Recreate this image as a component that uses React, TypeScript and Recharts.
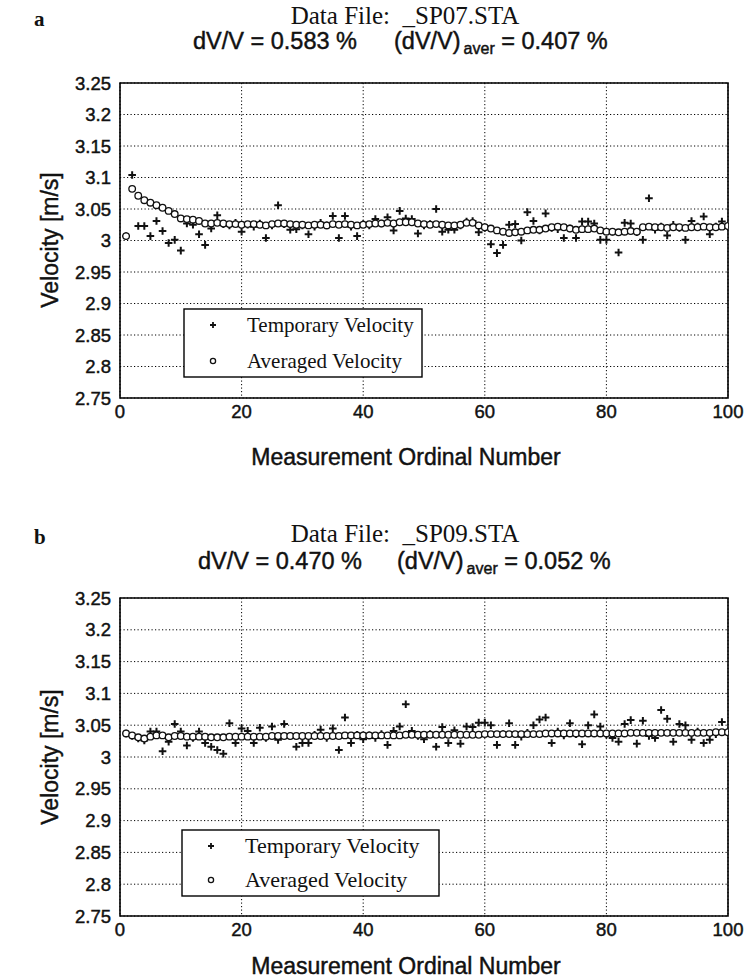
import React from "react";
import { ScatterChart, Scatter, XAxis, YAxis, CartesianGrid, ReferenceArea } from "recharts";

// ---------- data ----------
const ordinals: number[] = Array.from({ length: 100 }, (_, i) => i + 1);

const tempA: number[] = [
  3.007, 3.104, 3.023, 3.023, 3.007, 3.031, 3.015, 2.996, 3.001, 2.984,
  3.027, 3.025, 3.010, 2.993, 3.019, 3.040, 3.026, 3.024, 3.028, 3.014,
  3.025, 3.022, 3.027, 3.004, 3.024, 3.056, 3.026, 3.017, 3.018, 3.024,
  3.010, 3.022, 3.028, 3.024, 3.039, 3.004, 3.039, 3.022, 3.007, 3.026,
  3.024, 3.034, 3.027, 3.037, 3.016, 3.047, 3.035, 3.034, 3.011, 3.024,
  3.026, 3.050, 3.014, 3.017, 3.017, 3.024, 3.030, 3.031, 3.013, 3.020,
  2.994, 2.980, 2.993, 3.025, 3.026, 3.000, 3.045, 3.031, 3.016, 3.043,
  3.020, 3.018, 3.004, 3.019, 3.004, 3.030, 3.030, 3.027, 3.001, 3.001,
  3.014, 2.981, 3.028, 3.027, 3.013, 3.001, 3.067, 3.017, 3.022, 3.008,
  3.025, 3.020, 3.001, 3.031, 3.022, 3.038, 3.010, 3.022, 3.030, 3.024,
];

const avgA: number[] = [
  3.007, 3.082, 3.071, 3.064, 3.060, 3.056, 3.052, 3.047, 3.042, 3.035,
  3.034, 3.033, 3.031, 3.027, 3.027, 3.028, 3.027, 3.026, 3.026, 3.025,
  3.026, 3.026, 3.025, 3.024, 3.026, 3.027, 3.027, 3.026, 3.025, 3.025,
  3.024, 3.025, 3.025, 3.024, 3.026, 3.025, 3.026, 3.025, 3.024, 3.025,
  3.026, 3.027, 3.027, 3.028, 3.027, 3.029, 3.029, 3.029, 3.027, 3.026,
  3.025, 3.026, 3.025, 3.024, 3.024, 3.025, 3.028, 3.028, 3.024, 3.021,
  3.019, 3.016, 3.014, 3.012, 3.013, 3.014, 3.016, 3.017, 3.017, 3.019,
  3.021, 3.022, 3.021, 3.019, 3.017, 3.018, 3.018, 3.019, 3.016, 3.014,
  3.014, 3.013, 3.014, 3.015, 3.014, 3.021, 3.022, 3.021, 3.021, 3.020,
  3.021, 3.021, 3.020, 3.021, 3.021, 3.022, 3.021, 3.021, 3.022, 3.023,
];

const tempB: number[] = [
  3.037, 3.033, 3.029, 3.026, 3.040, 3.040, 3.009, 3.024, 3.052, 3.040,
  3.018, 3.030, 3.040, 3.022, 3.016, 3.011, 3.005, 3.053, 3.022, 3.045,
  3.041, 3.022, 3.046, 3.030, 3.048, 3.027, 3.052, 3.033, 3.016, 3.022,
  3.022, 3.035, 3.043, 3.030, 3.045, 3.011, 3.062, 3.022, 3.035, 3.028,
  3.034, 3.030, 3.036, 3.019, 3.041, 3.048, 3.083, 3.041, 3.033, 3.028,
  3.036, 3.016, 3.047, 3.022, 3.042, 3.021, 3.048, 3.047, 3.054, 3.054,
  3.050, 3.019, 3.036, 3.053, 3.019, 3.032, 3.038, 3.050, 3.059, 3.062,
  3.022, 3.040, 3.034, 3.053, 3.036, 3.020, 3.050, 3.067, 3.048, 3.035,
  3.030, 3.024, 3.052, 3.058, 3.021, 3.057, 3.033, 3.030, 3.074, 3.060,
  3.024, 3.052, 3.050, 3.027, 3.040, 3.022, 3.027, 3.036, 3.055, 3.040,
];

const avgB: number[] = [
  3.037, 3.034, 3.031, 3.029, 3.032, 3.034, 3.034, 3.031, 3.033, 3.033,
  3.032, 3.032, 3.032, 3.032, 3.031, 3.031, 3.031, 3.032, 3.032, 3.032,
  3.032, 3.032, 3.032, 3.032, 3.033, 3.033, 3.033, 3.033, 3.033, 3.033,
  3.033, 3.033, 3.033, 3.033, 3.033, 3.033, 3.034, 3.034, 3.034, 3.034,
  3.034, 3.034, 3.034, 3.034, 3.034, 3.034, 3.035, 3.035, 3.035, 3.035,
  3.035, 3.035, 3.035, 3.035, 3.035, 3.035, 3.035, 3.035, 3.035, 3.036,
  3.036, 3.036, 3.036, 3.036, 3.036, 3.036, 3.036, 3.036, 3.036, 3.037,
  3.037, 3.037, 3.037, 3.037, 3.037, 3.037, 3.037, 3.037, 3.037, 3.037,
  3.037, 3.037, 3.037, 3.038, 3.038, 3.038, 3.038, 3.038, 3.038, 3.038,
  3.038, 3.038, 3.038, 3.038, 3.038, 3.038, 3.038, 3.039, 3.039, 3.039,
];

const xTicks: number[] = [0, 20, 40, 60, 80, 100];
const yTicks: number[] = [2.75, 2.8, 2.85, 2.9, 2.95, 3, 3.05, 3.1, 3.15, 3.2, 3.25];
const yTickLabels: string[] = ["2.75", "2.8", "2.85", "2.9", "2.95", "3", "3.05", "3.1", "3.15", "3.2", "3.25"];

const legendLabels: string[] = ["Temporary Velocity", "Averaged Velocity"];
const panelLetters: string[] = ["a", "b"];
const fileNames: string[] = ["_SP07.STA", "_SP09.STA"];
const dvv: string[] = ["0.583", "0.470"];
const dvvAver: string[] = ["0.407", "0.052"];
const xLabel = "Measurement Ordinal Number";
const yLabel = "Velocity [m/s]";

const toPoints = (vals: number[]) => vals.map((v, i) => ({ n: ordinals[i], v }));

// ---------- styles ----------
const SANS = "'Liberation Sans', Arial, Helvetica, sans-serif";
const SERIF = "'Liberation Serif', 'Times New Roman', serif";
const INK = "#111";
const HEAVY = { stroke: INK, strokeWidth: 0.45 } as const;

const Plus = (p: any) => {
  const { cx, cy } = p;
  if (cx == null || cy == null) return null;
  const s = 3.8;
  return (
    <path
      d={`M${cx - s},${cy}H${cx + s}M${cx},${cy - s}V${cy + s}`}
      stroke={INK}
      strokeWidth={2}
      fill="none"
    />
  );
};

const Ring = (p: any) => {
  const { cx, cy } = p;
  if (cx == null || cy == null) return null;
  return <circle cx={cx} cy={cy} r={3.3} fill="#fff" stroke={INK} strokeWidth={1.3} />;
};

const tickFmt = (v: number) => {
  const i = yTicks.findIndex((t) => Math.abs(t - v) < 1e-6);
  return i >= 0 ? yTickLabels[i] : String(v);
};

const tickStyle = { fill: INK, fontSize: 18.5, fontFamily: SANS, ...HEAVY };

type PanelProps = {
  temp: number[];
  avg: number[];
  height: number;
  marginTop: number;
  xAxisHeight: number;
};

const Panel = ({ temp, avg, height, marginTop, xAxisHeight }: PanelProps) => (
  <ScatterChart
    width={745}
    height={height}
    margin={{ top: marginTop, right: 17, bottom: 0, left: 0 }}
  >
    <CartesianGrid
      stroke="#000"
      strokeDasharray="1.2 2.3"
      strokeWidth={1}
      horizontalValues={yTicks}
      verticalValues={xTicks}
    />
    <XAxis
      type="number"
      dataKey="n"
      domain={[0, 100]}
      ticks={xTicks}
      allowDataOverflow
      height={xAxisHeight}
      axisLine={false}
      tickLine={false}
      tickSize={0}
      tickMargin={7}
      tick={tickStyle}
    />
    <YAxis
      type="number"
      dataKey="v"
      domain={[2.75, 3.25]}
      ticks={yTicks}
      allowDataOverflow
      width={120}
      axisLine={false}
      tickLine={false}
      tickSize={0}
      tickMargin={9}
      tickFormatter={tickFmt}
      interval={0}
      tick={tickStyle}
    />
    <ReferenceArea
      x1={0}
      x2={100}
      y1={2.75}
      y2={3.25}
      fill="none"
      fillOpacity={0}
      stroke="#000"
      strokeWidth={1.6}
      ifOverflow="visible"
    />
    <Scatter data={toPoints(temp)} shape={Plus} isAnimationActive={false} name={legendLabels[0]} />
    <Scatter data={toPoints(avg)} shape={Ring} isAnimationActive={false} name={legendLabels[1]} />
  </ScatterChart>
);

type LegendBoxProps = { x: number; y: number; w: number; h: number; fs: number; r1: number; r2: number };
const LegendBox = ({ x, y, w, h, fs, r1, r2 }: LegendBoxProps) => (
  <g>
    <rect x={x} y={y} width={w} height={h} fill="#fff" stroke="#000" strokeWidth={1.4} />
    <path
      d={`M${x + 26},${y + r1}h6M${x + 29},${y + r1 - 3}v6`}
      stroke={INK}
      strokeWidth={1.8}
    />
    <circle cx={x + 29} cy={y + r2} r={2.6} fill="#fff" stroke={INK} strokeWidth={1.3} />
    <text x={x + 63} y={y + r1 + fs * 0.34} fontFamily={SERIF} fontSize={fs} fill={INK}>
      {legendLabels[0]}
    </text>
    <text x={x + 63} y={y + r2 + fs * 0.34} fontFamily={SERIF} fontSize={fs} fill={INK}>
      {legendLabels[1]}
    </text>
  </g>
);

type HeaderProps = { idx: number; base: number; sub: number; right1: number; left2: number };
const Header = ({ idx, base, sub, right1, left2 }: HeaderProps) => (
  <g>
    <text x={34} y={base + 2} fontFamily={SERIF} fontWeight="bold" fontSize={21} fill={INK}>
      {panelLetters[idx]}
    </text>
    <text x={405} y={base} textAnchor="middle" fontFamily={SERIF} fontSize={25} fill={INK} style={{ whiteSpace: "pre" }}>
      {`Data File:  ${fileNames[idx]}`}
    </text>
    <text x={right1} y={sub} textAnchor="end" fontFamily={SANS} fontSize={23.5} fill={INK} {...HEAVY}>
      {`dV/V = ${dvv[idx]} %`}
    </text>
    <text x={left2} y={sub} fontFamily={SANS} fontSize={23.5} fill={INK} {...HEAVY}>
      {"(dV/V)"}
      <tspan dy={5} fontSize={16} dx={3}>aver</tspan>
      <tspan dy={-5}>{` = ${dvvAver[idx]} %`}</tspan>
    </text>
  </g>
);

export default function App() {
  return (
    <div style={{ position: "relative", width: 745, height: 979, background: "#fff", overflow: "hidden" }}>
      <style>{`body{margin:0;background:#fff}`}</style>
      <div style={{ position: "absolute", left: 0, top: 0 }}>
        <Panel temp={tempA} avg={avgA} height={480} marginTop={83} xAxisHeight={82} />
      </div>
      <div style={{ position: "absolute", left: 0, top: 514 }}>
        <Panel temp={tempB} avg={avgB} height={465} marginTop={84} xAxisHeight={63} />
      </div>
      <svg
        width={745}
        height={979}
        style={{ position: "absolute", left: 0, top: 0, pointerEvents: "none" }}
      >
        <Header idx={0} base={24} sub={49} right1={357} left2={394} />
        <Header idx={1} base={542} sub={569} right1={362} left2={397} />

        <LegendBox x={184} y={309} w={238} h={68} fs={21} r1={16} r2={52} />
        <LegendBox x={182} y={830} w={257} h={66} fs={22} r1={16} r2={50} />

        <text x={406} y={465} textAnchor="middle" fontFamily={SANS} fontSize={23} fill={INK} {...HEAVY}>
          {xLabel}
        </text>
        <text x={406} y={974} textAnchor="middle" fontFamily={SANS} fontSize={23} fill={INK} {...HEAVY}>
          {xLabel}
        </text>
        <text
          transform={`translate(58,240) rotate(-90)`}
          textAnchor="middle"
          fontFamily={SANS}
          fontSize={23}
          fill={INK}
          {...HEAVY}
        >
          {yLabel}
        </text>
        <text
          transform={`translate(58,757) rotate(-90)`}
          textAnchor="middle"
          fontFamily={SANS}
          fontSize={23}
          fill={INK}
          {...HEAVY}
        >
          {yLabel}
        </text>
      </svg>
    </div>
  );
}
